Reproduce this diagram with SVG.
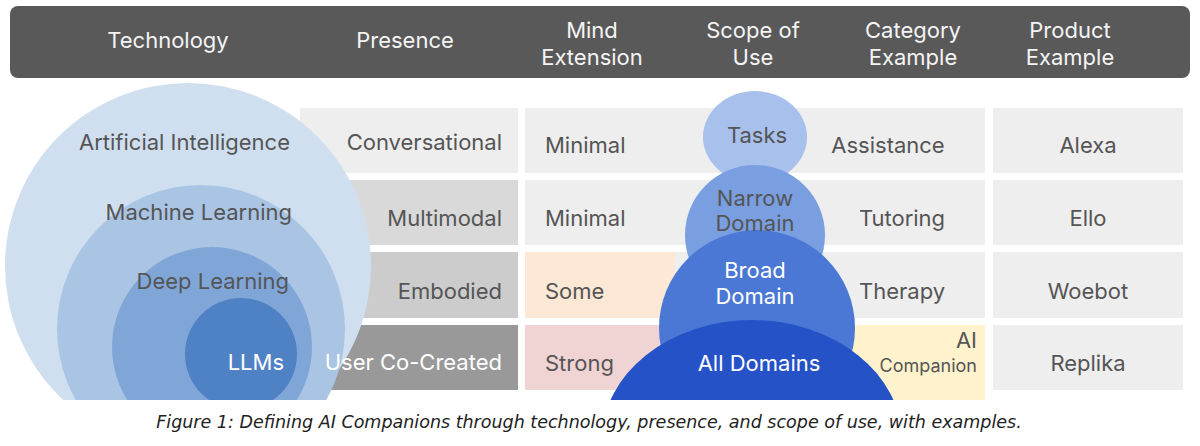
<svg xmlns="http://www.w3.org/2000/svg" width="1200" height="446" viewBox="0 0 1200 446">
<defs>
<style>
text{font-family:Inter,"Noto Sans",sans-serif;font-size:22px;fill:#555}
.h{fill:#f4f4f4;text-anchor:middle}
.w{fill:#fff}
.m{text-anchor:middle}
.e{text-anchor:end}
.cap{font-family:"DejaVu Sans",sans-serif;font-style:italic;font-size:17.5px;fill:#222;text-anchor:middle}
</style>
<clipPath id="cl"><rect x="0" y="0" width="1200" height="400"/></clipPath>
</defs>
<rect width="1200" height="446" fill="#fff"/>
<g id="header">
<rect x="10" y="6" width="1180" height="72" rx="8" fill="#595959"/>
<text class="h" x="168" y="48">Technology</text>
<text class="h" x="405" y="48">Presence</text>
<text class="h" x="592" y="38">Mind</text><text class="h" x="592" y="65">Extension</text>
<text class="h" x="753" y="38">Scope of</text><text class="h" x="753" y="65">Use</text>
<text class="h" x="913" y="38">Category</text><text class="h" x="913" y="65">Example</text>
<text class="h" x="1070" y="38">Product</text><text class="h" x="1070" y="65">Example</text>
</g>
<g id="cells">
<rect x="300" y="108" width="218" height="65" fill="#eeeeee"/>
<rect x="300" y="180" width="218" height="65" fill="#d9d9d9"/>
<rect x="300" y="252" width="218" height="66" fill="#cccccc"/>
<rect x="300" y="325" width="218" height="65" fill="#999999"/>
<rect x="525" y="108" width="460" height="65" fill="#eeeeee"/>
<rect x="525" y="180" width="460" height="65" fill="#eeeeee"/>
<rect x="525" y="252" width="460" height="66" fill="#eeeeee"/>
<rect x="525" y="252" width="150" height="66" fill="#fce8d4"/>
<rect x="525" y="325" width="150" height="65" fill="#f0d3d3"/>
<rect x="840" y="325" width="145" height="75" fill="#fff2cc"/>
<rect x="993" y="108" width="190" height="65" fill="#eeeeee"/>
<rect x="993" y="180" width="190" height="65" fill="#eeeeee"/>
<rect x="993" y="252" width="190" height="66" fill="#eeeeee"/>
<rect x="993" y="325" width="190" height="65" fill="#eeeeee"/>
</g>
<g id="technology" clip-path="url(#cl)">
<circle cx="188" cy="266" r="183" fill="#d0dff0"/>
<circle cx="201" cy="329" r="144" fill="#aac4e4"/>
<circle cx="212" cy="347" r="100" fill="#80a6d8"/>
<circle cx="241" cy="354" r="56" fill="#4f81c5"/>
</g>
<g id="scope" clip-path="url(#cl)">
<ellipse cx="755" cy="137" rx="52" ry="46" fill="#a8c0ec"/>
<circle cx="755" cy="235" r="70" fill="#7a9fe1"/>
<circle cx="757" cy="328" r="98" fill="#4b78d4"/>
<ellipse cx="752" cy="440" rx="150" ry="120" fill="#2652c8"/>
</g>
<g id="labels">
<text class="e" x="290" y="150">Artificial Intelligence</text>
<text class="e" x="292" y="220">Machine Learning</text>
<text class="e" x="289" y="289">Deep Learning</text>
<text class="e w" x="284" y="370">LLMs</text>
<text class="e" x="502" y="150">Conversational</text>
<text class="e" x="502" y="226">Multimodal</text>
<text class="e" x="502" y="299">Embodied</text>
<text class="e w" x="502" y="370">User Co-Created</text>
<text x="545" y="153">Minimal</text>
<text x="545" y="226">Minimal</text>
<text x="545" y="299">Some</text>
<text x="545" y="371">Strong</text>
<text class="m" x="757" y="143">Tasks</text>
<text class="m" x="755" y="206">Narrow</text><text class="m" x="755" y="231">Domain</text>
<text class="m w" x="755" y="278">Broad</text><text class="m w" x="755" y="304">Domain</text>
<text class="m w" x="759" y="371">All Domains</text>
<text class="m" x="888" y="153">Assistance</text>
<text class="m" x="902" y="226">Tutoring</text>
<text class="m" x="902" y="299">Therapy</text>
<text class="e" x="977" y="348">AI</text>
<text class="e" x="977" y="372" style="font-size:18px">Companion</text>
<text class="m" x="1088" y="153">Alexa</text>
<text class="m" x="1088" y="226">Ello</text>
<text class="m" x="1088" y="299">Woebot</text>
<text class="m" x="1088" y="371">Replika</text>
</g>
<text class="cap" x="589" y="428">Figure 1: Defining AI Companions through technology, presence, and scope of use, with examples.</text>
</svg>
